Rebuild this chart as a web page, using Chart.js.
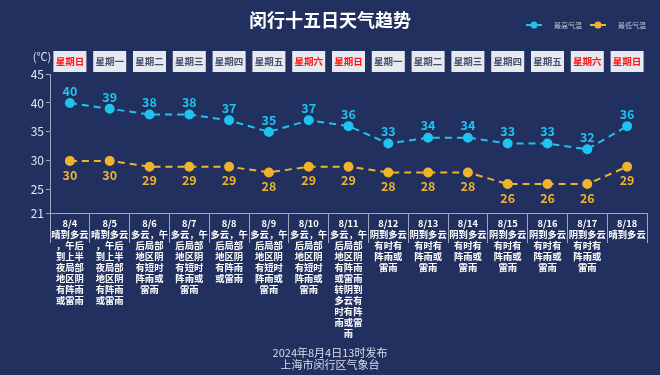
<!DOCTYPE html>
<html>
<head>
<meta charset="utf-8">
<script src="https://cdn.jsdelivr.net/npm/chart.js@4.4.6/dist/chart.umd.min.js"></script>
<style>
  html, body { margin: 0; padding: 0; background: #22305f; }
  #wrap { width: 660px; height: 375px; position: relative; }
</style>
</head>
<body>
<div id="wrap"><canvas id="chart"></canvas></div>
<script>
// 15-day forecast, Minhang district
const dates = ["8/4", "8/5", "8/6", "8/7", "8/8", "8/9", "8/10", "8/11", "8/12", "8/13", "8/14", "8/15", "8/16", "8/17", "8/18"]
const weekdays = ["星期日", "星期一", "星期二", "星期三", "星期四", "星期五", "星期六", "星期日", "星期一", "星期二", "星期三", "星期四", "星期五", "星期六", "星期日"]
const weather = [
  "晴到多云，午后到上半夜局部地区阴有阵雨或雷雨",
  "晴到多云，午后到上半夜局部地区阴有阵雨或雷雨",
  "多云，午后局部地区阴有短时阵雨或雷雨",
  "多云，午后局部地区阴有短时阵雨或雷雨",
  "多云，午后局部地区阴有阵雨或雷雨",
  "多云，午后局部地区阴有短时阵雨或雷雨",
  "多云，午后局部地区阴有短时阵雨或雷雨",
  "多云，午后局部地区阴有阵雨或雷雨转阴到多云有时有阵雨或雷雨",
  "阴到多云有时有阵雨或雷雨",
  "阴到多云有时有阵雨或雷雨",
  "阴到多云有时有阵雨或雷雨",
  "阴到多云有时有阵雨或雷雨",
  "阴到多云有时有阵雨或雷雨",
  "阴到多云有时有阵雨或雷雨",
  "晴到多云"
]
const highs = [40, 39, 38, 38, 37, 35, 37, 36, 33, 34, 34, 33, 33, 32, 36]
const lows = [30, 30, 29, 29, 29, 28, 29, 29, 28, 28, 28, 26, 26, 26, 29]
const yTicks = [21, 25, 30, 35, 40, 45]

const HIGH = "#1fc3ef"
const LOW = "#efb42c"
const FONT = "'Noto Sans CJK SC', 'Noto Sans', sans-serif"

// first line takes 4 chars, the rest 3 each (same as the original wrap)
function wrap(text) {
  const lines = [text.slice(0, 4)]
  for (let i = 4; i < text.length; i += 3) lines.push(text.slice(i, i + 3))
  return lines
}

const labels = dates.map((d, i) => [d, ...wrap(weather[i])])

const decorations = {
  id: "decorations",
  afterDraw(chart) {
    const { ctx } = chart
    const x = chart.scales.x
    ctx.save()

    // title
    ctx.fillStyle = "#ffffff"
    ctx.font = `bold 18px ${FONT}`
    ctx.textAlign = "center"
    ctx.textBaseline = "middle"
    ctx.fillText("闵行十五日天气趋势", 330, 20)

    // legend
    const items = [["最高气温", HIGH, 534], ["最低气温", LOW, 598]]
    items.forEach(([text, color, cx]) => {
      ctx.strokeStyle = color
      ctx.lineWidth = 2
      ctx.beginPath()
      ctx.moveTo(cx - 8, 25)
      ctx.lineTo(cx + 8, 25)
      ctx.stroke()
      ctx.fillStyle = color
      ctx.beginPath()
      ctx.arc(cx, 25, 3.5, 0, Math.PI * 2)
      ctx.fill()
      ctx.fillStyle = "#b9bfd3"
      ctx.font = `7px ${FONT}`
      ctx.textAlign = "left"
      ctx.fillText(text, cx + 20, 25)
    })

    // unit
    ctx.fillStyle = "#e2e6f0"
    ctx.font = `11px ${FONT}`
    ctx.textAlign = "center"
    ctx.fillText("(℃)", 42, 57)

    // weekday boxes
    weekdays.forEach((w, i) => {
      const cx = x.getPixelForValue(i)
      ctx.fillStyle = "#e7e9f0"
      ctx.fillRect(cx - 16.5, 51, 33, 21)
      const weekend = w === "星期六" || w === "星期日"
      ctx.fillStyle = weekend ? "#ff1414" : "#46506c"
      ctx.font = `bold 9.5px ${FONT}`
      ctx.textAlign = "center"
      ctx.fillText(w, cx, 61.5)
    })

    // footer
    ctx.fillStyle = "#d9deeb"
    ctx.font = `11px ${FONT}`
    ctx.fillText("2024年8月4日13时发布", 330, 353)
    ctx.fillText("上海市闵行区气象台", 330, 365)
    ctx.restore()
  },
  afterDatasetsDraw(chart) {
    const { ctx } = chart
    ctx.save()
    ctx.font = `bold 12.5px ${FONT}`
    ctx.textAlign = "center"
    ctx.textBaseline = "middle"
    chart.data.datasets.forEach((ds, di) => {
      const meta = chart.getDatasetMeta(di)
      ctx.fillStyle = ds.borderColor
      meta.data.forEach((pt, i) => {
        const dy = di === 0 ? -12 : 14
        ctx.fillText(ds.data[i], pt.x, pt.y + dy)
      })
    })
    ctx.restore()
  }
}

new Chart(document.getElementById("chart"), {
  type: "line",
  data: {
    labels,
    datasets: [
      {
        label: "最高气温",
        data: highs,
        borderColor: HIGH,
        backgroundColor: HIGH,
        borderWidth: 2,
        borderDash: [7, 5],
        pointRadius: 4,
        pointHoverRadius: 4,
        tension: 0
      },
      {
        label: "最低气温",
        data: lows,
        borderColor: LOW,
        backgroundColor: LOW,
        borderWidth: 2,
        borderDash: [7, 5],
        pointRadius: 4,
        pointHoverRadius: 4,
        tension: 0
      }
    ]
  },
  options: {
    responsive: true,
    maintainAspectRatio: false,
    animation: false,
    layout: { padding: { top: 74, right: 13, left: 0, bottom: 0 } },
    plugins: {
      legend: { display: false },
      tooltip: { enabled: false }
    },
    scales: {
      x: {
        offset: true,
        grid: {
          offset: true,
          drawOnChartArea: false,
          drawTicks: true,
          tickLength: 30,
          tickColor: "#9ea6c4",
          lineWidth: 1
        },
        border: { color: "#9ea6c4" },
        ticks: {
          color: "#ffffff",
          padding: -25,
          maxRotation: 0,
          autoSkip: false,
          font: { family: FONT, size: 9.3, weight: "bold", lineHeight: "11px" }
        },
        afterFit(scale) { scale.height = 162 }
      },
      y: {
        min: 21,
        max: 45,
        afterBuildTicks(scale) { scale.ticks = yTicks.map((v) => ({ value: v })) },
        grid: {
          drawOnChartArea: false,
          drawTicks: true,
          tickLength: 4,
          tickColor: "#9ea6c4"
        },
        border: { color: "#9ea6c4" },
        ticks: {
          color: "#e2e6f0",
          padding: 2,
          font: { family: FONT, size: 12 }
        },
        afterFit(scale) { scale.width = 50 }
      }
    }
  },
  plugins: [decorations]
})
</script>
</body>
</html>
